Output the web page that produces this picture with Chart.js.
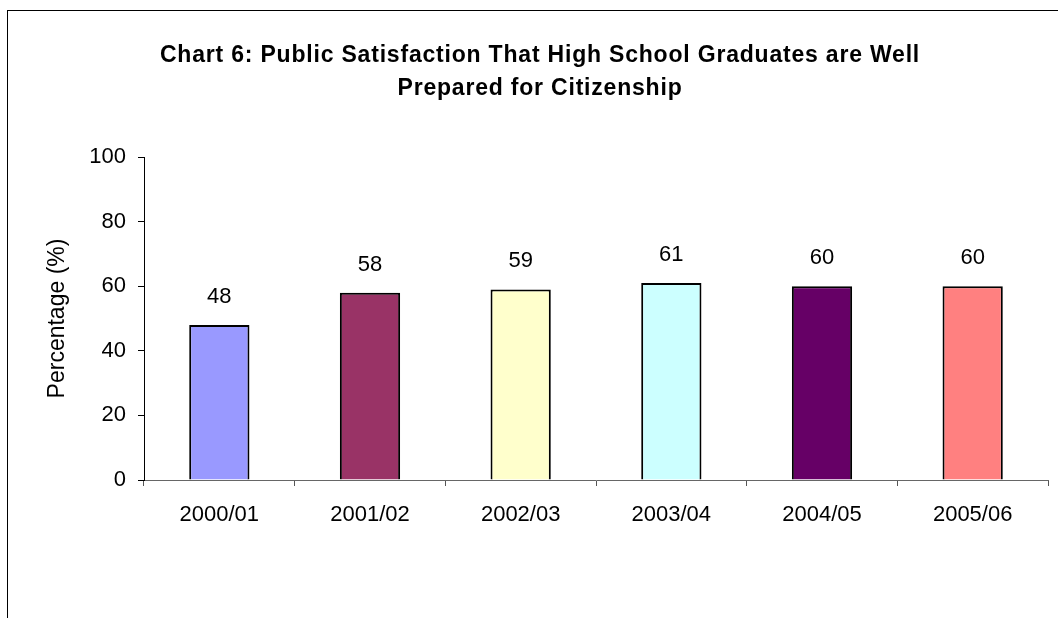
<!DOCTYPE html>
<html>
<head>
<meta charset="utf-8">
<script src="https://cdn.jsdelivr.net/npm/chart.js@4"></script>
<style>
  html, body { margin: 0; padding: 0; background: #fff; }
  #wrap { position: relative; width: 1058px; height: 618px; overflow: hidden; }
  #frame { position: absolute; left: 7px; top: 10px; width: 1100px; height: 700px;
           border-left: 1.5px solid #000; border-top: 1.5px solid #000; }
  canvas { position: absolute; left: 0; top: 0; }
</style>
</head>
<body>
<div id="wrap">
  <div id="frame"></div>
  <canvas id="chart" width="1058" height="618"></canvas>
</div>
<script>
const years = ['2000/01', '2001/02', '2002/03', '2003/04', '2004/05', '2005/06'];
const satisfaction = [48, 58, 59, 61, 60, 60];
const barColors = ['#9999FF', '#993366', '#FFFFCC', '#CCFFFF', '#660066', '#FF8080'];
const titleLines = ['Chart 6: Public Satisfaction That High School Graduates are Well', 'Prepared for Citizenship'];

const FONT = '"Liberation Sans", Arial, sans-serif';

// value labels above each bar + the two-line title
const extras = {
    id: 'extras',
    afterDatasetsDraw(chart) {
        const ctx = chart.ctx;
        const meta = chart.getDatasetMeta(0);
        ctx.save();
        ctx.fillStyle = '#000';
        ctx.font = '22px ' + FONT;
        ctx.textAlign = 'center';
        ctx.textBaseline = 'middle';
        meta.data.forEach(function(bar, i) {
            ctx.fillText(satisfaction[i], bar.x, bar.y - 28);
        });
        ctx.font = 'bold 23px ' + FONT;
        ctx.letterSpacing = '0.8px';
        ctx.fillText(titleLines[0], 540, 56);
        ctx.fillText(titleLines[1], 540, 89);
        ctx.restore();
    }
};

new Chart(document.getElementById('chart').getContext('2d'), {
    type: 'bar',
    data: {
        labels: years,
        datasets: [{
            data: satisfaction,
            backgroundColor: barColors,
            borderColor: '#000',
            borderWidth: 2,
            barPercentage: 0.4,
            categoryPercentage: 1
        }]
    },
    options: {
        responsive: false,
        animation: false,
        layout: { padding: { left: 0, right: 10, top: 157, bottom: 78 } },
        plugins: {
            legend: { display: false },
            tooltip: { enabled: false }
        },
        scales: {
            x: {
                afterFit: function(scale) { scale.height = 60; },
                grid: { drawOnChartArea: false, offset: true, tickLength: 6, color: '#555' },
                border: { display: true, color: '#666', width: 1 },
                ticks: { color: '#000', font: { family: FONT, size: 22 }, padding: 16 }
            },
            y: {
                min: 0,
                max: 100,
                afterFit: function(scale) { scale.width = 144; },
                grid: { drawOnChartArea: false, tickLength: 6, color: '#000' },
                border: { display: true, color: '#000', width: 1 },
                ticks: { stepSize: 20, color: '#000', font: { family: FONT, size: 22 }, padding: 12 },
                title: {
                    display: true,
                    text: 'Percentage (%)',
                    color: '#000',
                    font: { family: FONT, size: 23 },
                    padding: { top: 44, bottom: 0 }
                }
            }
        }
    },
    plugins: [extras]
});
</script>
</body>
</html>
